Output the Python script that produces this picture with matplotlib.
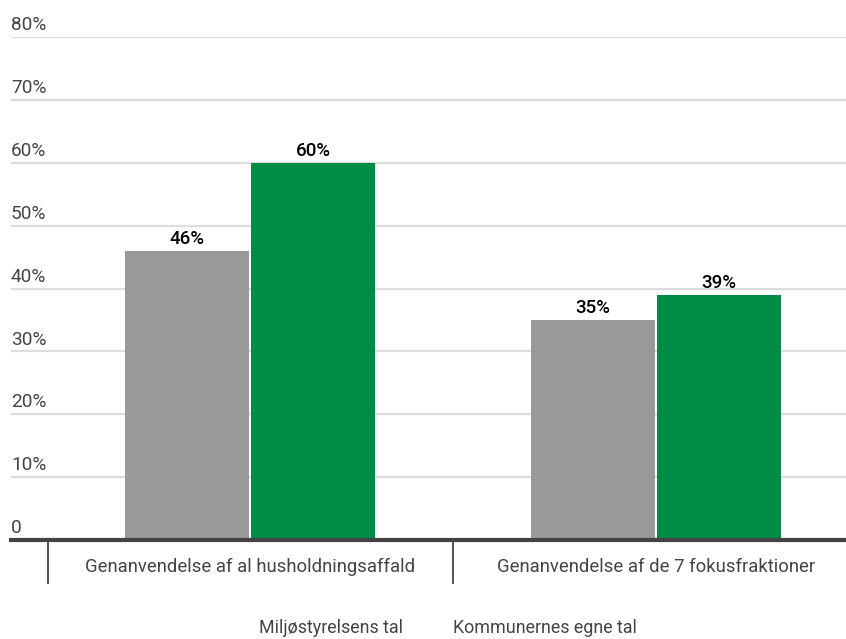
import matplotlib.pyplot as plt
import numpy as np

plt.rcParams["font.family"] = ["Roboto", "DejaVu Sans"]

categories = ["Genanvendelse af al husholdningsaffald",
              "Genanvendelse af de 7 fokusfraktioner"]
series_names = ["Miljøstyrelsens tal", "Kommunernes egne tal"]
miljo = [46, 35]
kommuner = [60, 39]
yticks = [0, 10, 20, 30, 40, 50, 60, 70, 80]

gray = "#999999"
green = "#008c45"

fig = plt.figure(figsize=(8.46, 6.39), dpi=100)
ax = fig.add_axes([11/846, 1 - 540/639, 1 - 11/846, (540 - 37)/639])

x = np.arange(len(categories))
w = 0.306
off = 0.1555
b1 = ax.bar(x - off, miljo, width=w, color=gray, zorder=3)
b2 = ax.bar(x + off, kommuner, width=w, color=green, zorder=3)

for bars, vals in [(b1, miljo), (b2, kommuner)]:
    for bar, v in zip(bars, vals):
        ax.text(bar.get_x() + bar.get_width()/2, v + 0.45, f"{v}%",
                ha="center", va="bottom", fontsize=13.5, color="black",
                fontweight="medium")

ax.set_xlim(-0.591, 1.470)
ax.set_ylim(0, 80)
ax.set_yticks(yticks)
ax.set_yticklabels([])
ax.tick_params(axis="y", length=0)
ax.yaxis.grid(True, color="#dddddd", linewidth=1.6, zorder=0)
ax.set_xticks([])

for t in yticks:
    lab = "0" if t == 0 else f"{t}%"
    ax.text(-0.591, t + 0.45, lab, ha="left", va="bottom",
            fontsize=13.7, color="#444444")

for s in ["top", "right", "left"]:
    ax.spines[s].set_visible(False)
ax.spines["bottom"].set_color("#444444")
ax.spines["bottom"].set_linewidth(3)
ax.spines["bottom"].set_zorder(4)

# category separators and labels below the axis
for i in range(len(categories) + 1):
    ax.plot([i - 0.5, i - 0.5], [-0.4, -6.8], color="#444444",
            linewidth=1.3, clip_on=False)
for i, c in enumerate(categories):
    ax.text(i, -4.3, c, ha="center", va="center", fontsize=13.3,
            color="#444444")

# series names (legend row at the bottom edge)
fig.text(259/846, 1 - 628/639, series_names[0], ha="left", va="center",
         fontsize=12.9, color="#444444")
fig.text(453/846, 1 - 628/639, series_names[1], ha="left", va="center",
         fontsize=12.9, color="#444444")

fig.savefig("out.png", dpi=100)
